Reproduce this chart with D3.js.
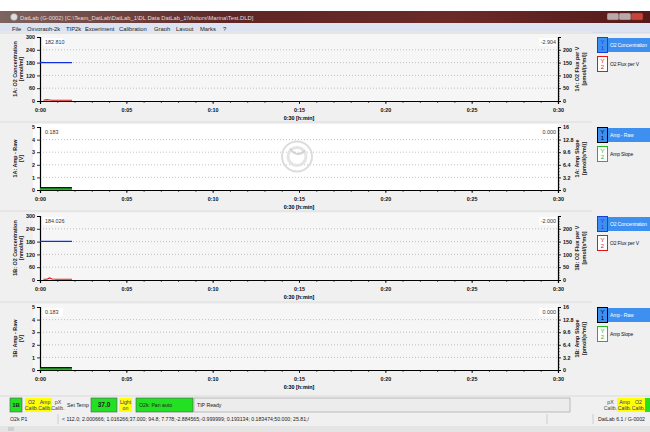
<!DOCTYPE html>
<html>
<head>
<meta charset="utf-8">
<style>
  html, body { margin: 0; padding: 0; background: #fff; }
  svg { display: block; font-family: "Liberation Sans", Arial, sans-serif; }
</style>
<script src="https://cdn.jsdelivr.net/npm/d3@7"></script>
</head>
<body>
<div id="chart"></div>
<script>
// DatLab screen: 4 panels (O2 chamber A/B, amperometry A/B)
const width = 650, height = 432;

// ---- data ----
const xTicks = [0, 5, 10, 15, 20, 25, 30];           // minutes
const concTicks = [0, 60, 120, 180, 240, 300];
const fluxTicks = [0, 50, 100, 150, 200];
const ampTicks = [0, 1, 2, 3, 4, 5];
const slopeTicks = [0, 3.2, 6.4, 9.6, 12.8, 16];

const concTime = [0.0, 0.3, 0.6, 0.9, 1.2, 1.5, 1.85];
const o2ConcA = [180.2, 180.1, 180.0, 180.0, 179.9, 180.0, 180.0];
const o2ConcB = [181.0, 181.0, 180.9, 181.0, 180.9, 181.0, 181.0];

const fluxTime = [0.2, 0.4, 0.55, 0.7, 1.0, 1.3, 1.6, 1.85];
const o2FluxA = [3, 5, 4, 3, 3, 3, 3, 3];
const o2FluxB = [3, 3, 8, 4, 3, 3, 3, 3];

const ampTime = [0.0, 0.5, 1.0, 1.5, 1.85];
const ampRawA = [0.183, 0.183, 0.183, 0.183, 0.183];
const ampRawB = [0.183, 0.183, 0.183, 0.183, 0.183];
const ampSlopeA = [0.0, 0.0, 0.0, 0.0, 0.0];
const ampSlopeB = [0.0, 0.0, 0.0, 0.0, 0.0];

const legendO2 = ["O2 Concentration", "O2 Flux per V"];
const legendAmp = ["Amp - Raw", "Amp Slope"];

const svg = d3.select("#chart").append("svg")
  .attr("width", width).attr("height", height);

// window background
svg.append("rect").attr("width", width).attr("height", height).attr("fill", "#f0f0f0");
svg.append("rect").attr("width", width).attr("height", 11).attr("fill", "#fff");

// title bar
const grad = svg.append("defs").append("linearGradient").attr("id", "tb");
grad.append("stop").attr("offset", "0").attr("stop-color", "#7d6460");
grad.append("stop").attr("offset", "0.35").attr("stop-color", "#5e2624");
grad.append("stop").attr("offset", "0.7").attr("stop-color", "#6a2a28");
grad.append("stop").attr("offset", "1").attr("stop-color", "#561a1a");
svg.append("rect").attr("x", 0).attr("y", 11).attr("width", width).attr("height", 12).attr("fill", "url(#tb)");
svg.append("circle").attr("cx", 14).attr("cy", 17).attr("r", 3.5).attr("fill", "#ddd").attr("stroke", "#888").attr("stroke-width", 0.5);
svg.append("text").attr("x", 20).attr("y", 19.5).attr("font-size", 5.8).attr("fill", "#e8dcdc")
  .text("DatLab (G-0002) [C:\\Team_DatLab\\DatLab_1\\DL Data DatLab_1\\Visitors\\Marina\\Test.DLD]");
// window buttons
[[607, 13, "#b9a9a9"], [619, 13, "#b9a9a9"], [631, 13, "#c8443a"]].forEach(([bx, by, c]) => {
  svg.append("rect").attr("x", bx).attr("y", by).attr("width", 12).attr("height", 7).attr("rx", 1.5)
    .attr("fill", c).attr("stroke", "#6a3030").attr("stroke-width", 0.4);
});

// menu bar
svg.append("rect").attr("x", 0).attr("y", 23).attr("width", width).attr("height", 10).attr("fill", "#dde3f0");
svg.append("line").attr("x1", 0).attr("x2", width).attr("y1", 33).attr("y2", 33).attr("stroke", "#c8cdd8").attr("stroke-width", 0.6);
const menuItems = ["File", "Oxygraph-2k", "TIP2k", "Experiment", "Calibration", "Graph", "Layout", "Marks", "?"];
const menuX = [12, 27, 66, 85, 119, 154, 176, 200, 223];
menuItems.forEach((m, i) => {
  svg.append("text").attr("x", menuX[i]).attr("y", 30.5).attr("font-size", 5.8).attr("fill", "#222").text(m);
});

// ---- panels ----
const panels = [
  { top: 37, bottom: 101, bg: "#f6f6f6", left: concTicks, right: fluxTicks, rightMax: 250, rightMinor: 10,
    ttlL: ["1A: O2 Concentration", "[nmol/ml]"], ttlR: ["1A: O2 Flux per V", "[pmol/(s*ml)]"],
    valL: "182.810", valR: "-2.904", legend: legendO2, kind: "o2",
    s1: [concTime, o2ConcA], s2: [fluxTime, o2FluxA] },
  { top: 127, bottom: 190, bg: "#ffffff", left: ampTicks, right: slopeTicks, rightMax: 16, rightMinor: 0.8,
    ttlL: ["1A: Amp - Raw", "[V]"], ttlR: ["1A: Amp Slope", "[pmol/(s*ml)]"],
    valL: "0.183", valR: "0.000", legend: legendAmp, kind: "amp",
    s1: [ampTime, ampRawA], s2: [ampTime, ampSlopeA] },
  { top: 216, bottom: 280, bg: "#f6f6f6", left: concTicks, right: fluxTicks, rightMax: 250, rightMinor: 10,
    ttlL: ["1B: O2 Concentration", "[nmol/ml]"], ttlR: ["1B: O2 Flux per V", "[pmol/(s*ml)]"],
    valL: "184.026", valR: "-2.000", legend: legendO2, kind: "o2",
    s1: [concTime, o2ConcB], s2: [fluxTime, o2FluxB] },
  { top: 307, bottom: 370, bg: "#f6f6f6", left: ampTicks, right: slopeTicks, rightMax: 16, rightMinor: 0.8,
    ttlL: ["1B: Amp - Raw", "[V]"], ttlR: ["1B: Amp Slope", "[pmol/(s*ml)]"],
    valL: "0.183", valR: "0.000", legend: legendAmp, kind: "amp",
    s1: [ampTime, ampRawB], s2: [ampTime, ampSlopeB] }
];

const x = d3.scaleLinear().domain([0, 30]).range([40, 558]);
const fmtTime = d => "0:" + String(d).padStart(2, "0");
const fs = 5.4;

function styleAxis(g) {
  g.select(".domain").attr("stroke", "#000").attr("stroke-width", 1.2);
  g.selectAll(".tick line").attr("stroke", "#000").attr("stroke-width", 0.8);
  g.selectAll(".tick text").attr("font-size", fs).attr("font-weight", "bold").attr("fill", "#111");
}

panels.forEach((p, idx) => {
  const yL = d3.scaleLinear().domain([0, d3.max(p.left)]).range([p.bottom, p.top]);
  const yR = d3.scaleLinear().domain([0, p.rightMax]).range([p.bottom, p.top]);
  const g = svg.append("g");

  // panel strip + plot background
  g.append("rect").attr("x", 0).attr("y", p.top - 6).attr("width", 592).attr("height", 2).attr("fill", "#e6e6e6");
  g.append("rect").attr("x", 33).attr("y", p.top - 3).attr("width", 526).attr("height", p.bottom - p.top + 4).attr("fill", p.bg);

  // dotted grid
  g.selectAll(".grid").data(p.left.slice(1, -1)).join("line")
    .attr("x1", x(0)).attr("x2", x(30))
    .attr("y1", d => yL(d)).attr("y2", d => yL(d))
    .attr("stroke", "#9a9a9a").attr("stroke-width", 0.6).attr("stroke-dasharray", "1,2");

  // watermark logo in selected panel
  if (idx === 1) {
    const cy = (p.top + p.bottom) / 2 - 2;
    g.append("circle").attr("cx", 297).attr("cy", cy).attr("r", 15).attr("fill", "none").attr("stroke", "#dcdcdc").attr("stroke-width", 2);
    g.append("circle").attr("cx", 297).attr("cy", cy).attr("r", 9).attr("fill", "none").attr("stroke", "#e4e4e4").attr("stroke-width", 3);
    g.append("path").attr("d", `M290,${cy - 8} Q297,${cy + 2} 305,${cy - 6}`).attr("fill", "none").attr("stroke", "#d4d4d4").attr("stroke-width", 2);
  }

  // x axis
  const xa = g.append("g").attr("transform", `translate(0,${p.bottom})`)
    .call(d3.axisBottom(x).tickValues(xTicks).tickFormat(fmtTime).tickSize(3).tickPadding(4));
  styleAxis(xa);
  const xm = g.append("g").attr("transform", `translate(0,${p.bottom})`)
    .call(d3.axisBottom(x).tickValues(d3.range(0, 31, 1)).tickFormat("").tickSize(2));
  xm.select(".domain").remove();
  xm.selectAll(".tick line").attr("stroke", "#000").attr("stroke-width", 0.6);
  g.append("text").attr("x", x(15)).attr("y", p.bottom + 19).attr("text-anchor", "middle")
    .attr("font-size", fs).attr("font-weight", "bold").text("0:30 [h:min]");

  // left axis
  const la = g.append("g").attr("transform", `translate(${x(0)},0)`)
    .call(d3.axisLeft(yL).tickValues(p.left).tickFormat(d => d).tickSize(3).tickPadding(2));
  styleAxis(la);

  // right axis
  const ra = g.append("g").attr("transform", `translate(${x(30)},0)`)
    .call(d3.axisRight(yR).tickValues(p.right).tickFormat(d => d).tickSize(3).tickPadding(2));
  styleAxis(ra);
  const rm = g.append("g").attr("transform", `translate(${x(30)},0)`)
    .call(d3.axisRight(yR).tickValues(d3.range(0, p.rightMax + 0.001, p.rightMinor)).tickFormat("").tickSize(1.8));
  rm.select(".domain").remove();
  rm.selectAll(".tick line").attr("stroke", "#000").attr("stroke-width", 0.5);

  // axis titles
  const midY = (p.top + p.bottom) / 2;
  [17, 23].forEach((tx, i) => {
    g.append("text").attr("transform", `translate(${tx},${midY}) rotate(-90)`).attr("text-anchor", "middle")
      .attr("font-size", fs).attr("font-weight", "bold").attr("fill", "#222").text(p.ttlL[i]);
  });
  [579, 586].forEach((tx, i) => {
    g.append("text").attr("transform", `translate(${tx},${midY}) rotate(-90)`).attr("text-anchor", "middle")
      .attr("font-size", fs).attr("font-weight", "bold").attr("fill", "#222").text(p.ttlR[i]);
  });

  // series
  const c1 = p.kind === "o2" ? "#1030e0" : "#000";
  const c2 = p.kind === "o2" ? "#e01818" : "#22b822";
  const lineL = d3.line().x(d => x(d[0])).y(d => yL(d[1]));
  const lineR = d3.line().x(d => x(d[0])).y(d => yR(d[1]));
  if (p.kind === "amp") {
    g.append("path").datum(d3.zip(...p.s2)).attr("d", lineR).attr("transform", "translate(0,-1)")
      .attr("fill", "none").attr("stroke", c2).attr("stroke-width", 2.2);
    g.append("path").datum(d3.zip(...p.s1)).attr("d", lineL)
      .attr("fill", "none").attr("stroke", c1).attr("stroke-width", 1.2);
  } else {
    g.append("path").datum(d3.zip(...p.s1)).attr("d", lineL)
      .attr("fill", "none").attr("stroke", c1).attr("stroke-width", 1.4);
    g.append("path").datum(d3.zip(...p.s2)).attr("d", lineR)
      .attr("fill", "none").attr("stroke", c2).attr("stroke-width", 1.2);
  }

  // current value boxes
  g.append("rect").attr("x", 43).attr("y", p.top + 1).attr("width", 20).attr("height", 8).attr("fill", "#fff");
  g.append("text").attr("x", 45).attr("y", p.top + 7).attr("font-size", fs).attr("fill", "#333").text(p.valL);
  g.append("rect").attr("x", 539).attr("y", p.top + 1).attr("width", 18).attr("height", 8).attr("fill", "#fff");
  g.append("text").attr("x", 556).attr("y", p.top + 7).attr("text-anchor", "end").attr("font-size", fs).attr("fill", "#333").text(p.valR);

  // legend
  const ly = p.top;
  const ic1 = p.kind === "o2" ? "#1a3fe0" : "#000";
  g.append("rect").attr("x", 607).attr("y", ly + 1).attr("width", 43).attr("height", 14).attr("fill", "#3d8ff0");
  g.append("rect").attr("x", 597.5).attr("y", ly + 0.5).attr("width", 10).attr("height", 15)
    .attr("fill", "#3d8ff0").attr("stroke", ic1).attr("stroke-width", 1);
  g.append("text").attr("x", 602.5).attr("y", ly + 7).attr("text-anchor", "middle").attr("font-size", 6).attr("fill", ic1).text("Y");
  g.append("text").attr("x", 602.5).attr("y", ly + 13).attr("text-anchor", "middle").attr("font-size", 6).attr("fill", ic1).text("1");
  g.append("text").attr("x", 610).attr("y", ly + 10).attr("font-size", 5).attr("letter-spacing", -0.15)
    .attr("fill", "#fff").text(p.legend[0]);

  g.append("rect").attr("x", 597.5).attr("y", ly + 19.5).attr("width", 10).attr("height", 15)
    .attr("fill", "#fff").attr("stroke", c2).attr("stroke-width", 1);
  g.append("text").attr("x", 602.5).attr("y", ly + 26).attr("text-anchor", "middle").attr("font-size", 6).attr("fill", c2).text("Y");
  g.append("text").attr("x", 602.5).attr("y", ly + 32).attr("text-anchor", "middle").attr("font-size", 6).attr("fill", c2).text("2");
  g.append("text").attr("x", 610).attr("y", ly + 29).attr("font-size", 5).attr("letter-spacing", -0.15)
    .attr("fill", "#111").text(p.legend[1]);
});

// ---- status bar ----
const sb = svg.append("g");
sb.append("line").attr("x1", 0).attr("x2", width).attr("y1", 396).attr("y2", 396).attr("stroke", "#cfcfcf").attr("stroke-width", 0.6);
function box(x0, w, fill, lines, opts = {}) {
  sb.append("rect").attr("x", x0).attr("y", 398).attr("width", w).attr("height", 14)
    .attr("fill", fill).attr("stroke", opts.stroke || "none").attr("stroke-width", 0.6);
  lines.forEach((t, i) => {
    sb.append("text").attr("x", opts.anchor === "start" ? x0 + 3 : x0 + w / 2)
      .attr("y", lines.length === 1 ? 407 : 404 + i * 6)
      .attr("text-anchor", opts.anchor || "middle")
      .attr("font-size", opts.size || 5.2).attr("font-weight", opts.bold ? "bold" : "normal")
      .attr("fill", opts.color || "#222").text(t);
  });
}
box(10, 12, "#22e022", ["1B"], { bold: true, size: 6, stroke: "#555" });
box(25, 13, "#ffff00", ["O2", "Calib."], { color: "#2a2a9a" });
box(38, 14, "#ffff00", ["Amp", "Calib."], { color: "#2a2a9a" });
box(53, 10, "none", ["pX", "Calib."], { color: "#444" });
box(65, 26, "none", ["Set Temp"], { color: "#222" });
box(91, 26, "#22e022", ["37.0"], { bold: true, size: 6.5, stroke: "#555" });
box(119, 13, "#ffff00", ["Light", "on"], { color: "#2a2a9a" });
box(136, 57, "#22e022", ["O2k: Pan auto"], { anchor: "start", stroke: "#555" });
box(194, 376, "#ececec", ["TIP Ready"], { anchor: "start", stroke: "#999" });
box(604, 13, "none", ["pX", "Calib."], { color: "#444" });
box(617, 15, "#ffff00", ["Amp", "Calib."], { color: "#2a2a9a" });
box(632, 13, "#ffff00", ["O2", "Calib."], { color: "#2a2a9a" });
box(645, 6, "#22e022", [""], {});

// bottom info line
sb.append("rect").attr("x", 0).attr("y", 414).attr("width", width).attr("height", 10).attr("fill", "#f0f0f0");
[58, 547, 593].forEach(sx => {
  sb.append("line").attr("x1", sx).attr("x2", sx).attr("y1", 414).attr("y2", 424).attr("stroke", "#c4c4c4").attr("stroke-width", 0.8);
});
sb.append("text").attr("x", 10).attr("y", 421).attr("font-size", 5.2).attr("fill", "#222").text("O2k P1");
sb.append("text").attr("x", 62).attr("y", 421).attr("font-size", 5.2).attr("fill", "#222")
  .text("<    112.0; 2.000666; 1.016266;37.000; 94.8;  7.778;-2.884565;-0.999999; 0.193134; 0.183474;50.000; 25.81;/");
sb.append("text").attr("x", 645).attr("y", 421).attr("text-anchor", "end").attr("font-size", 5.2).attr("fill", "#222").text("DatLab 6.1 / G-0002");
sb.append("rect").attr("x", 0).attr("y", 426).attr("width", width).attr("height", 6).attr("fill", "#e4e4e4");
sb.append("rect").attr("x", 8).attr("y", 427).attr("width", 6).attr("height", 4).attr("fill", "#cfcfcf");
</script>
</body>
</html>
